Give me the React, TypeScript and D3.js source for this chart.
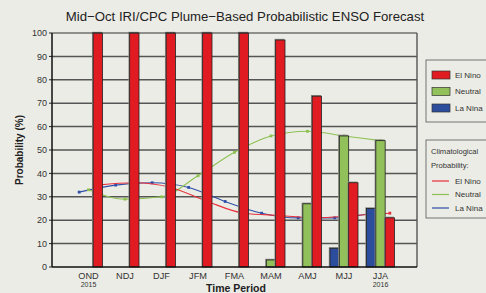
import React, { useEffect, useRef } from 'react';
import * as d3 from 'd3';

// data
const periods = ['OND', 'NDJ', 'DJF', 'JFM', 'FMA', 'MAM', 'AMJ', 'MJJ', 'JJA'];
const yearLabels = { OND: '2015', JJA: '2016' };
const seriesNames = ['La Nina', 'Neutral', 'El Nino'];
const elNino = [100, 100, 100, 100, 100, 97, 73, 36, 21];
const neutral = [0, 0, 0, 0, 0, 3, 27, 56, 54];
const laNina = [0, 0, 0, 0, 0, 0, 0, 8, 25];
const climElNino = [35, 36, 34, 28, 23, 22, 21, 22, 23];
const climNeutral = [33, 29, 30, 39, 49, 56, 58, 56, 54];
const climLaNina = [32, 35, 36, 34, 28, 23, 21, 21, 23];
const yTicks = [0, 10, 20, 30, 40, 50, 60, 70, 80, 90, 100];

const colors = { 'El Nino': '#e01b22', Neutral: '#92c05a', 'La Nina': '#2c4c9c' };
const lineColors = { 'El Nino': '#e8303a', Neutral: '#8cc152', 'La Nina': '#2f4fa8' };
const bg = '#ecece6';

export default function App() {
  const ref = useRef<SVGSVGElement>(null);

  useEffect(() => {
    document.body.style.margin = '0';
    const width = 486;
    const height = 293;
    const margin = { top: 33, right: 69, bottom: 26, left: 52 };
    const innerWidth = width - margin.left - margin.right;
    const innerHeight = height - margin.top - margin.bottom;

    const svg = d3.select(ref.current);
    svg.selectAll('*').remove();
    svg.append('rect').attr('width', width).attr('height', height).attr('fill', bg);

    const font = '"Liberation Sans", Arial, sans-serif';

    svg
      .append('text')
      .attr('x', 245)
      .attr('y', 21)
      .attr('text-anchor', 'middle')
      .attr('font-family', font)
      .attr('font-size', 13.2)
      .attr('fill', '#222')
      .text('Mid\u2212Oct IRI/CPC Plume\u2212Based Probabilistic ENSO Forecast');

    const g = svg.append('g').attr('transform', `translate(${margin.left},${margin.top})`);

    const xScale = d3.scalePoint().domain(periods).range([0, innerWidth]).padding(1);
    const inner = d3.scaleBand().domain(seriesNames).range([-14, 14]);
    const yScale = d3.scaleLinear().domain([0, 100]).range([innerHeight, 0]);

    // grid
    g.selectAll('.grid')
      .data(yTicks.slice(1, -1))
      .enter()
      .append('line')
      .attr('x1', 0)
      .attr('x2', innerWidth)
      .attr('y1', (d) => yScale(d))
      .attr('y2', (d) => yScale(d))
      .attr('stroke', '#555')
      .attr('stroke-width', 1.5);

    // y axis labels + ticks
    g.selectAll('.ytick')
      .data(yTicks)
      .enter()
      .append('line')
      .attr('x1', -3)
      .attr('x2', 0)
      .attr('y1', (d) => yScale(d))
      .attr('y2', (d) => yScale(d))
      .attr('stroke', '#222');
    g.selectAll('.ylabel')
      .data(yTicks)
      .enter()
      .append('text')
      .attr('x', -5)
      .attr('y', (d) => yScale(d))
      .attr('dy', '0.35em')
      .attr('text-anchor', 'end')
      .attr('font-family', font)
      .attr('font-size', 9)
      .attr('fill', '#333')
      .text((d) => d);

    // climatological lines (drawn behind the bars)
    const climSeries = [
      { key: 'La Nina', values: climLaNina },
      { key: 'Neutral', values: climNeutral },
      { key: 'El Nino', values: climElNino },
    ];
    climSeries.forEach((s) => {
      const off = (inner(s.key) as number) + inner.bandwidth() / 2;
      const ln = d3
        .line<number>()
        .x((d, i) => (xScale(periods[i]) as number) + off)
        .y((d) => yScale(d))
        .curve(d3.curveMonotoneX);
      g.append('path')
        .attr('d', ln(s.values))
        .attr('fill', 'none')
        .attr('stroke', lineColors[s.key])
        .attr('stroke-width', 1.1);
      g.selectAll(null)
        .data(s.values)
        .enter()
        .append('rect')
        .attr('x', (d, i) => (xScale(periods[i]) as number) + off - 1.4)
        .attr('y', (d) => yScale(d) - 1.4)
        .attr('width', 2.8)
        .attr('height', 2.8)
        .attr('fill', lineColors[s.key]);
    });

    // bars
    const barSeries = [
      { key: 'La Nina', values: laNina },
      { key: 'Neutral', values: neutral },
      { key: 'El Nino', values: elNino },
    ];
    barSeries.forEach((s) => {
      const items = s.values.map((v, i) => ({ p: periods[i], v })).filter((d) => d.v > 0);
      // shadow
      g.selectAll(null)
        .data(items)
        .enter()
        .append('rect')
        .attr('x', (d) => (xScale(d.p) as number) + (inner(s.key) as number) - 1.2)
        .attr('y', (d) => yScale(d.v) - 1.2)
        .attr('width', inner.bandwidth() + 0.6)
        .attr('height', (d) => innerHeight - yScale(d.v) + 1.2)
        .attr('fill', '#8a8a86');
      g.selectAll(null)
        .data(items)
        .enter()
        .append('rect')
        .attr('x', (d) => (xScale(d.p) as number) + (inner(s.key) as number))
        .attr('y', (d) => yScale(d.v))
        .attr('width', inner.bandwidth())
        .attr('height', (d) => innerHeight - yScale(d.v))
        .attr('fill', colors[s.key])
        .attr('stroke', '#222')
        .attr('stroke-width', 0.8);
    });

    // frame
    g.append('line').attr('x1', 0).attr('x2', innerWidth).attr('y1', 0).attr('y2', 0).attr('stroke', '#333').attr('stroke-width', 1.2);
    g.append('line').attr('x1', innerWidth).attr('x2', innerWidth).attr('y1', 0).attr('y2', innerHeight).attr('stroke', '#555').attr('stroke-width', 1.4);
    g.append('line').attr('x1', 0).attr('x2', 0).attr('y1', 0).attr('y2', innerHeight).attr('stroke', '#111').attr('stroke-width', 1.5);
    g.append('line').attr('x1', 0).attr('x2', innerWidth).attr('y1', innerHeight).attr('y2', innerHeight).attr('stroke', '#111').attr('stroke-width', 1.5);

    // x labels
    g.selectAll('.xlabel')
      .data(periods)
      .enter()
      .append('text')
      .attr('x', (d) => xScale(d) as number)
      .attr('y', innerHeight + 12)
      .attr('text-anchor', 'middle')
      .attr('font-family', font)
      .attr('font-size', 9.2)
      .attr('fill', '#333')
      .text((d) => d);
    g.selectAll('.yearlabel')
      .data(Object.keys(yearLabels))
      .enter()
      .append('text')
      .attr('x', (d) => xScale(d) as number)
      .attr('y', innerHeight + 20)
      .attr('text-anchor', 'middle')
      .attr('font-family', font)
      .attr('font-size', 7)
      .attr('fill', '#333')
      .text((d) => yearLabels[d]);

    svg
      .append('text')
      .attr('x', 236)
      .attr('y', 292)
      .attr('text-anchor', 'middle')
      .attr('font-family', font)
      .attr('font-weight', 'bold')
      .attr('font-size', 10.5)
      .attr('fill', '#222')
      .text('Time Period');
    svg
      .append('text')
      .attr('transform', 'translate(23,150) rotate(-90)')
      .attr('text-anchor', 'middle')
      .attr('font-family', font)
      .attr('font-weight', 'bold')
      .attr('font-size', 10)
      .attr('fill', '#222')
      .text('Probability (%)');

    // legend 1
    const lg1 = svg.append('g').attr('transform', 'translate(426,60)');
    lg1.append('rect').attr('width', 70).attr('height', 62).attr('fill', bg).attr('stroke', '#555').attr('stroke-width', 0.8);
    ['El Nino', 'Neutral', 'La Nina'].forEach((k, i) => {
      const y = 11 + i * 16.5;
      lg1.append('rect').attr('x', 6).attr('y', y).attr('width', 18).attr('height', 8).attr('fill', colors[k]).attr('stroke', '#333').attr('stroke-width', 0.7);
      lg1.append('text').attr('x', 29).attr('y', y + 4).attr('dy', '0.35em').attr('font-family', font).attr('font-size', 8).attr('fill', '#333').text(k);
    });

    // legend 2
    const lg2 = svg.append('g').attr('transform', 'translate(426,140)');
    lg2.append('rect').attr('width', 70).attr('height', 78).attr('fill', bg).attr('stroke', '#555').attr('stroke-width', 0.8);
    lg2.append('text').attr('x', 5).attr('y', 11).attr('dy', '0.35em').attr('font-family', font).attr('font-size', 7.6).attr('fill', '#333').text('Climatological');
    lg2.append('text').attr('x', 5).attr('y', 25).attr('dy', '0.35em').attr('font-family', font).attr('font-size', 7.6).attr('fill', '#333').text('Probability:');
    ['El Nino', 'Neutral', 'La Nina'].forEach((k, i) => {
      const y = 41 + i * 13.5;
      lg2.append('line').attr('x1', 6).attr('x2', 23).attr('y1', y).attr('y2', y).attr('stroke', lineColors[k]).attr('stroke-width', 1.2);
      lg2.append('text').attr('x', 29).attr('y', y).attr('dy', '0.35em').attr('font-family', font).attr('font-size', 8).attr('fill', '#333').text(k);
    });
  }, []);

  return <svg ref={ref} width={486} height={293} style={{ display: 'block' }}></svg>;
}
